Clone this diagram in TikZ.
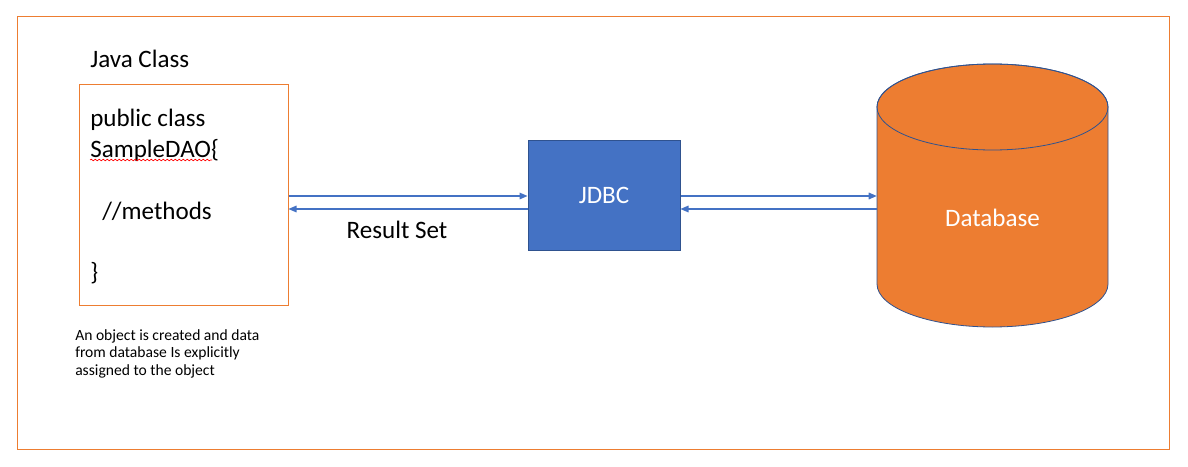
\documentclass[tikz,border=0pt]{standalone}
\usepackage{fontspec}
\setmainfont{Carlito}
\usetikzlibrary{arrows.meta, positioning, decorations.pathmorphing}
\definecolor{frameorange}{HTML}{ED7D31}
\definecolor{jdbcblue}{HTML}{4472C4}
\definecolor{edgeblue}{HTML}{2F528F}

\begin{document}
\begin{tikzpicture}[x=0.75pt, y=-0.75pt,
    bigtext/.style={font=\fontsize{18.8}{23.1}\selectfont},
    smalltext/.style={font=\fontsize{11.7}{13.1}\selectfont},
    classbox/.style={draw=frameorange, line width=0.75pt, minimum width=156.75pt, minimum height=165pt, inner sep=0pt},
    jdbcbox/.style={draw=edgeblue, fill=jdbcblue, line width=0.75pt, minimum width=114pt, minimum height=82.5pt, inner sep=0pt, text=white, bigtext},
    flow/.style={jdbcblue, line width=0.8pt, -{Triangle[length=6pt, width=5pt]}}
]
    \useasboundingbox (0,0) rectangle (1188,467);

    % Outer frame
    \draw[frameorange, line width=1pt] (17.5,16.5) rectangle (1169.5,449.5);

    % Java class box
    \node[bigtext, anchor=base west, inner sep=0pt] (title) at (90,68) {Java Class};
    \node[classbox] (javaclass) at (183.5,195) {};
    \node[bigtext, anchor=north west, align=left, inner sep=0pt] (code) at (90,109)
        {public class\\SampleDAO\{\\\mbox{}\\\hspace*{9pt}//methods\\\mbox{}\\\}};
    \draw[red, line width=0.5pt, decorate, decoration={snake, amplitude=0.6pt, segment length=3pt}] (90,160) -- (212,160);
    \node[smalltext, anchor=north west, align=left, inner sep=0pt] (note) at (75,329)
        {An object is created and data\\from database Is explicitly\\assigned to the object};

    % JDBC
    \node[jdbcbox] (jdbc) at (604,195) {JDBC};

    % Database cylinder
    \filldraw[fill=frameorange, draw=edgeblue, line width=0.6pt] (877,107) -- (877,284)
        arc[start angle=180, end angle=0, x radius=115.5, y radius=43] -- (1108,107)
        arc[start angle=0, end angle=-180, x radius=115.5, y radius=43] -- cycle;
    \draw[edgeblue, line width=0.6pt] (992.5,107) ellipse [x radius=115.5, y radius=43];
    \node[bigtext, text=white, minimum width=173.25pt, inner sep=0pt] (db) at (992.5,218) {Database};

    % Connectors
    \draw[flow] ([yshift=-0.75pt]javaclass.east) -- ([yshift=-0.75pt]jdbc.west);
    \draw[flow] ([yshift=-10.5pt]jdbc.west) -- ([yshift=-10.5pt]javaclass.east);
    \node[bigtext, anchor=base, inner sep=0pt] (result) at (397,238) {Result Set};
    \draw[flow] ([yshift=-0.75pt]jdbc.east) -- ([yshift=-0.75pt]jdbc.east -| db.west);
    \draw[flow] ([yshift=-10.5pt]jdbc.east -| db.west) -- ([yshift=-10.5pt]jdbc.east);
\end{tikzpicture}
\end{document}
